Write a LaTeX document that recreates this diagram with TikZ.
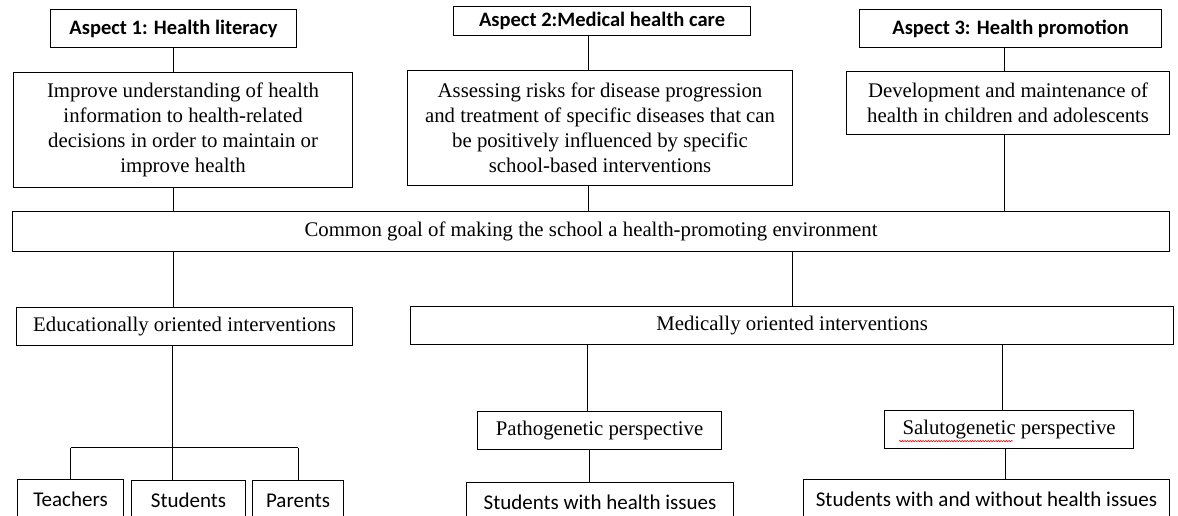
\documentclass[tikz,border=0pt]{standalone}
\usepackage{fontspec}
\setmainfont{Liberation Serif}
\newfontfamily\calibri{Carlito}
\usepackage{tikz}
\usetikzlibrary{decorations.pathmorphing}
\tikzstyle{block} = [rectangle, draw=black, line width=1.1pt, inner sep=0pt, anchor=north west, align=center, text centered, font=\fontsize{20.8}{25}\selectfont]
\tikzstyle{aspect} = [block, font=\calibri\bfseries\fontsize{20.5}{24}\selectfont]
\tikzstyle{target} = [block, font=\calibri\fontsize{21}{25}\selectfont]
\tikzstyle{link} = [line width=1.1pt]
\tikzstyle{spell} = [red, line width=0.6pt, decorate, decoration={snake, amplitude=0.7pt, segment length=2.6pt}]

\begin{document}
\begin{tikzpicture}[x=1pt, y=-1pt]
\useasboundingbox (0,0) rectangle (1178,516);
\clip (0,0) rectangle (1178,516);

% Aspetti
\node (asp1) [aspect, minimum width=246pt, minimum height=38pt] at (50,9) {Aspect 1: Health literacy};
\node (asp2) [aspect, minimum width=297pt, minimum height=29pt] at (453,6) {Aspect 2:Medical health care};
\node (asp3) [aspect, minimum width=302pt, minimum height=38pt] at (859,9) {Aspect 3: Health promotion};

% Descrizioni
\node (literacy) [block, minimum width=339pt, minimum height=115pt] at (13,72) {Improve understanding of health\\ information to health-related\\ decisions in order to maintain or\\ improve health};
\node (care) [block, minimum width=385pt, minimum height=115pt] at (407,70) {Assessing risks for disease progression\\ and treatment of specific diseases that can\\ be positively influenced by specific\\ school-based interventions};
\node (promotion) [block, minimum width=323pt, minimum height=63pt] at (846,71) {Development and maintenance of\\ health in children and adolescents};

% Obiettivo comune
\node (goal) [block, minimum width=1157pt, minimum height=40pt] at (12,211) {Common goal of making the school a health-promoting environment};

% Interventi
\node (educ) [block, minimum width=336pt, minimum height=38pt] at (16,307) {Educationally oriented interventions};
\node (medic) [block, minimum width=763pt, minimum height=38pt] at (410,306) {Medically oriented interventions};

\node (teachers) [target, minimum width=106pt, minimum height=40pt] at (17,479) {Teachers};
\node (students) [target, minimum width=114pt, minimum height=40pt] at (131,480) {Students};
\node (parents) [target, minimum width=91pt, minimum height=40pt] at (252,480) {Parents};

\node (patho) [block, minimum width=244pt, minimum height=38pt] at (477,411) {Pathogenetic perspective};
\node (saluto) [block, minimum width=249pt, minimum height=38pt] at (884,410) {Salutogenetic perspective};

\node (sick) [target, minimum width=267pt, minimum height=40pt] at (466,482) {Students with health issues};
\node (allstud) [target, minimum width=366pt, minimum height=40pt] at (803,479) {Students with and without health issues};

\coordinate (fork) at (172.6,447.5);

% Collegamenti
\draw [link] (asp1) -- (asp1 |- literacy.north);
\draw [link] (asp1 |- literacy.south) -- (asp1 |- goal.north);
\draw [link] ([xshift=-13.5pt]asp2.south) -- ([xshift=-13.5pt]asp2.south |- care.north);
\draw [link] ([xshift=-13.5pt]asp2.south |- care.south) -- ([xshift=-13.5pt]asp2.south |- goal.north);
\draw [link] ([xshift=-6.5pt]asp3.south) -- ([xshift=-6.5pt]asp3.south |- promotion.north);
\draw [link] ([xshift=-6.5pt]asp3.south |- promotion.south) -- ([xshift=-6.5pt]asp3.south |- goal.north);

\draw [link] (asp1 |- goal.south) -- (asp1 |- educ.north);
\draw [link] (medic.north |- goal.south) -- (medic);

\draw [link] (fork |- educ.south) -- (fork);
\draw [link] (teachers.north |- fork) -- (parents.north |- fork);
\draw [link] (teachers.north |- fork) -- (teachers);
\draw [link] (fork) -- (fork |- students.north);
\draw [link] (parents.north |- fork) -- (parents);

\draw [link] ([xshift=-12pt]patho.north |- medic.south) -- ([xshift=-12pt]patho.north);
\draw [link] ([xshift=-10pt]patho.south) -- ([xshift=-10pt]patho.south |- sick.north);
\draw [link] ([xshift=-6.5pt]saluto.north |- medic.south) -- ([xshift=-6.5pt]saluto.north);
\draw [link] ([xshift=-3.5pt]saluto.south) -- ([xshift=-3.5pt]saluto.south |- allstud.north);

% sottolineatura ortografica
\draw [spell] ([xshift=15pt, yshift=8pt]saluto.south west) -- ++(114,0);

\end{tikzpicture}
\end{document}
